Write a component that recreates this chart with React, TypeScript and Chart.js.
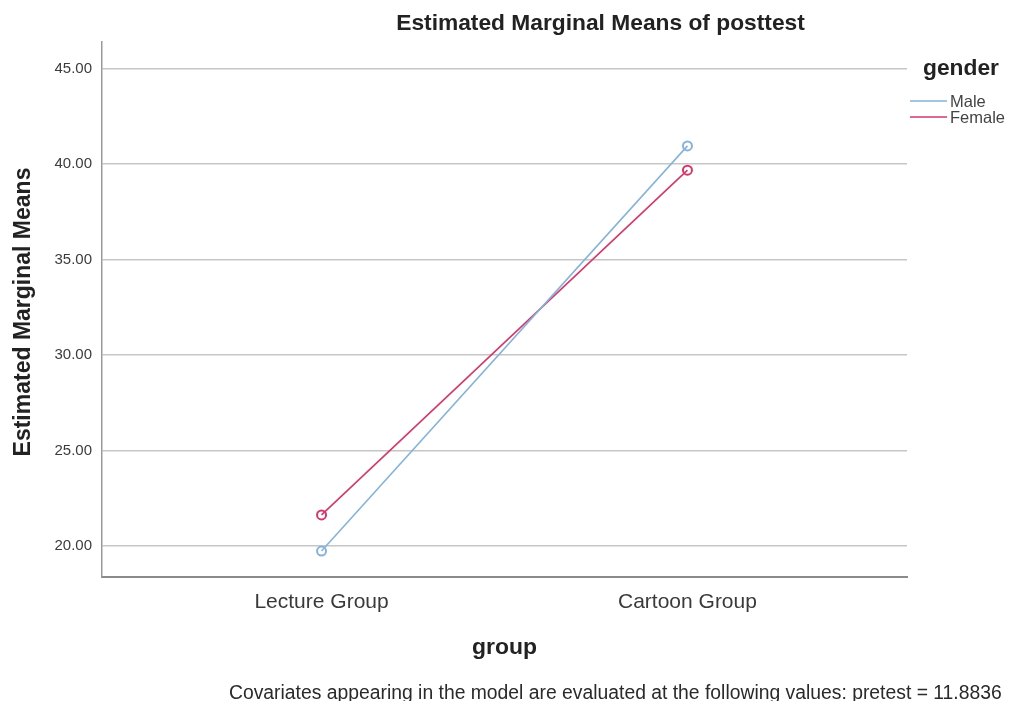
import React, { useEffect, useRef } from "react";
import { Chart, registerables } from "chart.js";

Chart.register(...registerables);

const groups = ["Lecture Group", "Cartoon Group"];
const seriesNames = ["Male", "Female"];
const maleMeans = [19.74, 40.95];
const femaleMeans = [21.63, 39.68];
const yTicks = [20, 25, 30, 35, 40, 45];
const chartTitle = "Estimated Marginal Means of posttest";
const yTitle = "Estimated Marginal Means";
const xTitle = "group";
const legendTitle = "gender";
const footnote =
  "Covariates appearing in the model are evaluated at the following values: pretest = 11.8836";

const MALE_COLOR = "#86b3dc";
const FEMALE_COLOR = "#d4386a";
const FONT = '"Liberation Sans", Arial, sans-serif';

function fitFont(ctx: CanvasRenderingContext2D, text: string, weight: string, target: number) {
  ctx.font = `${weight} 20px ${FONT}`;
  const w = ctx.measureText(text).width;
  const size = (20 * target) / w;
  ctx.font = `${weight} ${size}px ${FONT}`;
}

const textPlugin = {
  id: "spssText",
  afterDraw(chart: any) {
    const ctx: CanvasRenderingContext2D = chart.ctx;
    ctx.save();
    ctx.fillStyle = "#222";
    // main title
    ctx.textAlign = "center";
    ctx.textBaseline = "alphabetic";
    fitFont(ctx, chartTitle, "bold", 409);
    ctx.fillText(chartTitle, 600.5, 30);
    // y title
    ctx.save();
    ctx.translate(29.5, 312);
    ctx.rotate(-Math.PI / 2);
    fitFont(ctx, yTitle, "bold", 289);
    ctx.fillText(yTitle, 0, 0);
    ctx.restore();
    // x title
    fitFont(ctx, xTitle, "bold", 65);
    ctx.fillText(xTitle, 504.5, 654);
    // footnote
    ctx.textAlign = "left";
    ctx.fillStyle = "#2a2a2a";
    fitFont(ctx, footnote, "normal", 773);
    ctx.fillText(footnote, 229, 699);
    // legend
    ctx.fillStyle = "#222";
    fitFont(ctx, legendTitle, "bold", 76);
    ctx.fillText(legendTitle, 923, 75);
    const colors = [MALE_COLOR, FEMALE_COLOR];
    const ys = [101, 117];
    seriesNames.forEach((name, i) => {
      ctx.strokeStyle = colors[i];
      ctx.lineWidth = 1.5;
      ctx.beginPath();
      ctx.moveTo(910, ys[i]);
      ctx.lineTo(947, ys[i]);
      ctx.stroke();
      ctx.fillStyle = "#444";
      ctx.font = `16.5px ${FONT}`;
      ctx.textBaseline = "middle";
      ctx.fillText(name, 950, ys[i] + 1);
    });
    ctx.restore();
  },
};

export default function App() {
  const ref = useRef<HTMLCanvasElement | null>(null);
  useEffect(() => {
    if (!ref.current) return;
    const toPoints = (arr: number[]) => arr.map((v, i) => ({ x: i, y: v }));
    const mk = (label: string, arr: number[], color: string) => ({
      label,
      data: toPoints(arr),
      borderColor: color,
      backgroundColor: "rgba(255,255,255,0)",
      borderWidth: 1.6,
      pointRadius: 4.5,
      pointBorderWidth: 2,
      pointBorderColor: color,
      pointBackgroundColor: "rgba(255,255,255,0)",
      tension: 0,
    });
    const chart = new Chart(ref.current, {
      type: "line",
      data: {
        datasets: [
          mk(seriesNames[0], maleMeans, MALE_COLOR),
          mk(seriesNames[1], femaleMeans, FEMALE_COLOR),
        ],
      },
      options: {
        responsive: false,
        animation: false,
        devicePixelRatio: 1,
        layout: { padding: { left: 0, top: 42, right: 104, bottom: 0 } },
        plugins: {
          legend: { display: false },
          title: { display: false },
          tooltip: { enabled: false },
        },
        scales: {
          x: {
            type: "linear",
            min: -0.6,
            max: 1.6,
            afterBuildTicks: (scale: any) => {
              scale.ticks = groups.map((_, i) => ({ value: i }));
            },
            afterFit: (scale: any) => {
              scale.height = 124;
            },
            grid: { display: false, drawTicks: false },
            border: { display: true, color: "#8a8a8a", width: 2 },
            ticks: {
              callback: (v: any) => groups[v] ?? "",
              font: { family: FONT, size: 21 },
              color: "#3a3a3a",
              padding: 13,
              maxRotation: 0,
              autoSkip: false,
            },
          },
          y: {
            type: "linear",
            min: 18.38,
            max: 46.39,
            afterBuildTicks: (scale: any) => {
              scale.ticks = yTicks.map((v) => ({ value: v }));
            },
            afterFit: (scale: any) => {
              scale.width = 102;
            },
            grid: { color: "#c6c6c6", lineWidth: 1.5, drawTicks: false },
            border: { display: true, color: "#9a9a9a", width: 1.5 },
            ticks: {
              callback: (v: any) => Number(v).toFixed(2),
              font: { family: FONT, size: 15 },
              color: "#3c3c3c",
              padding: 10,
            },
          },
        },
      },
      plugins: [textPlugin],
    });
    return () => chart.destroy();
  }, []);
  return (
    <div style={{ position: "fixed", left: 0, top: 0, width: 1011, height: 701, background: "#fff" }}>
      <canvas ref={ref} width={1011} height={701} />
    </div>
  );
}
